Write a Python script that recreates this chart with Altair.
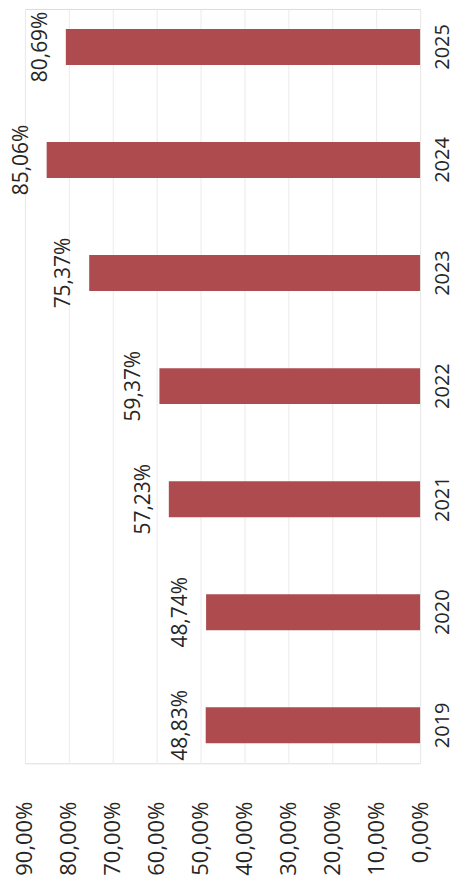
import altair as alt
import pandas as pd

years = ["2019", "2020", "2021", "2022", "2023", "2024", "2025"]
values = [48.83, 48.74, 57.23, 59.37, 75.37, 85.06, 80.69]
value_labels = ["48,83%", "48,74%", "57,23%", "59,37%", "75,37%", "85,06%", "80,69%"]
tick_values = [0, 10, 20, 30, 40, 50, 60, 70, 80, 90]
tick_labels = ["0,00%", "10,00%", "20,00%", "30,00%", "40,00%",
               "50,00%", "60,00%", "70,00%", "80,00%", "90,00%"]

df = pd.DataFrame({"year": years, "value": values, "label": value_labels})

label_array = "[" + ",".join("'" + t + "'" for t in tick_labels) + "]"

FONT = "Open Sans"
TXT = "#262626"
BAR = "#AD4B4E"

x = alt.X(
    "value:Q",
    scale=alt.Scale(domain=[0, 90], reverse=True, nice=False, zero=True),
    axis=alt.Axis(
        values=tick_values,
        labelExpr=label_array + "[round(datum.value / 10)]",
        labelAngle=270,
        labelAlign="right",
        labelBaseline="middle",
        labelPadding=38,
        labelFontSize=22,
        labelFont=FONT,
        labelColor=TXT,
        ticks=False,
        domain=False,
        grid=True,
        gridColor="#ebebeb",
        gridWidth=1,
        title=None,
    ),
)

y = alt.Y(
    "year:N",
    sort=list(reversed(years)),
    scale=alt.Scale(paddingInner=0.682, paddingOuter=0.1765),
    axis=alt.Axis(
        orient="right",
        labelAngle=270,
        labelAlign="center",
        labelBaseline="top",
        labelPadding=12,
        labelFontSize=20,
        labelFont=FONT,
        labelColor=TXT,
        ticks=False,
        domain=False,
        grid=False,
        title=None,
    ),
)

bars = alt.Chart(df).mark_bar(color=BAR).encode(x=x, y=y)

texts = alt.Chart(df).mark_text(
    angle=270, align="center", baseline="bottom", dy=-15,
    font=FONT, fontSize=21, color=TXT,
).encode(x="value:Q", y=alt.Y("year:N", sort=list(reversed(years))), text="label:N")

chart = (
    alt.layer(bars, texts)
    .properties(width=396, height=756, padding={"left": 2, "top": 0, "right": 0, "bottom": 0})
    .configure_view(stroke=None)
    .configure(font=FONT)
)

chart.save("out.html", embed_options={"renderer": "svg", "actions": False})
